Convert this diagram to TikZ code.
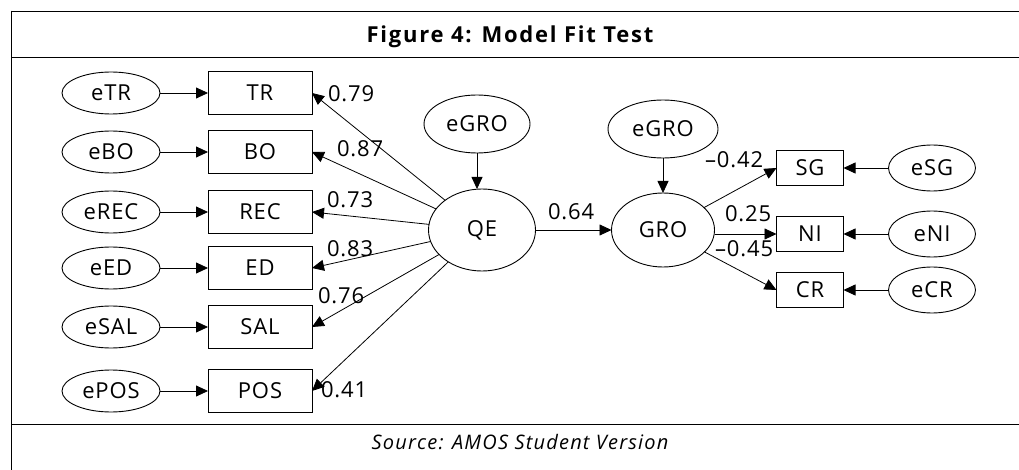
\documentclass[tikz,border=0pt]{standalone}
\usepackage{fontspec}
\setmainfont{Open Sans}
\newfontfamily\diagfont[LetterSpace=4]{Open Sans}
\usetikzlibrary{shapes.geometric,arrows.meta}

\begin{document}
\begin{tikzpicture}[x=1pt,y=-1pt,
  every node/.style={inner sep=0pt,outer sep=0pt},
  txt/.style={font=\diagfont\fontsize{22}{24}\selectfont},
  errvar/.style={txt,draw,ellipse,line width=0.9pt},
  latent/.style={txt,draw,ellipse,line width=0.9pt},
  item/.style={txt,draw,rectangle,line width=0.9pt,minimum width=104pt,minimum height=43pt},
  smallitem/.style={txt,draw,rectangle,line width=0.9pt,minimum width=67pt,minimum height=35pt},
  coef/.style={txt,anchor=base west},
  regpath/.style={line width=0.8pt,-{Triangle[length=12pt,width=11pt]}},
  rule/.style={line width=1pt}
]
\useasboundingbox (0,0) rectangle (1019,470);

% table frame
\draw[rule,line width=1.6pt] (11,11.5) -- (1019,11.5);
\draw[rule] (11,58) -- (1019,58);
\draw[rule] (11,424) -- (1019,424);
\draw[rule,line width=1.4pt] (11.5,10.7) -- (11.5,470);

\node[anchor=base,font=\bfseries\addfontfeature{LetterSpace=8}\fontsize{22}{24}\selectfont] (title) at (510,43) {Figure 4: Model Fit Test};
\node[anchor=base,font=\itshape\addfontfeature{LetterSpace=6}\fontsize{20}{22}\selectfont] (source) at (520,449) {Source: AMOS Student Version};

% measurement model of QE
\foreach \nm/\yy in {TR/93, BO/152, REC/212, ED/268, SAL/327, POS/391}{
  \node[errvar,minimum width=98pt,minimum height=42pt] (e\nm) at (111,\yy) {e\nm};
  \node[item] (\nm) at (260,\yy) {\nm};
  \draw[regpath] (e\nm) -- (\nm);
}

\node[latent,minimum width=107pt,minimum height=82pt] (QE) at (482,230) {QE};
\node[errvar,minimum width=106pt,minimum height=58pt] (eGROa) at (477,124) {eGRO};
\draw[regpath] (eGROa.south) -- (eGROa.south |- QE.north);

\foreach \nm in {TR, BO, REC, ED, SAL, POS}{
  \draw[regpath] (QE) -- (\nm.east);
}

\node[coef] (cTR) at (328,102) {0.79};
\node[coef] (cBO) at (337,157) {0.87};
\node[coef] (cREC) at (327,208) {0.73};
\node[coef] (cED) at (327,257) {0.83};
\node[coef] (cSAL) at (318,303) {0.76};
\node[coef] (cPOS) at (321,397) {0.41};

% structural part
\node[latent,minimum width=103pt,minimum height=74pt] (GRO) at (663,230) {GRO};
\node[errvar,minimum width=110pt,minimum height=58pt] (eGROb) at (663,129) {eGRO};
\draw[regpath] (eGROb) -- (GRO);
\draw[regpath] (QE) -- (GRO);
\node[coef] (cGRO) at (548,220) {0.64};

% measurement model of GRO
\foreach \nm/\yy in {SG/168, NI/234, CR/290}{
  \node[smallitem] (\nm) at (810,\yy) {\nm};
  \node[errvar,minimum width=87pt,minimum height=46pt] (e\nm) at (932,\yy) {e\nm};
  \draw[regpath] (e\nm) -- (\nm);
}
\draw[regpath] (GRO) -- (SG.west);
\draw[regpath] (GRO.east |- NI.west) -- (NI.west);
\draw[regpath] (GRO) -- (CR.west);

\node[coef] (cSG) at (705,168) {–0.42};
\node[coef] (cNI) at (725,222) {0.25};
\node[coef] (cCR) at (715,257) {–0.45};
\end{tikzpicture}
\end{document}
